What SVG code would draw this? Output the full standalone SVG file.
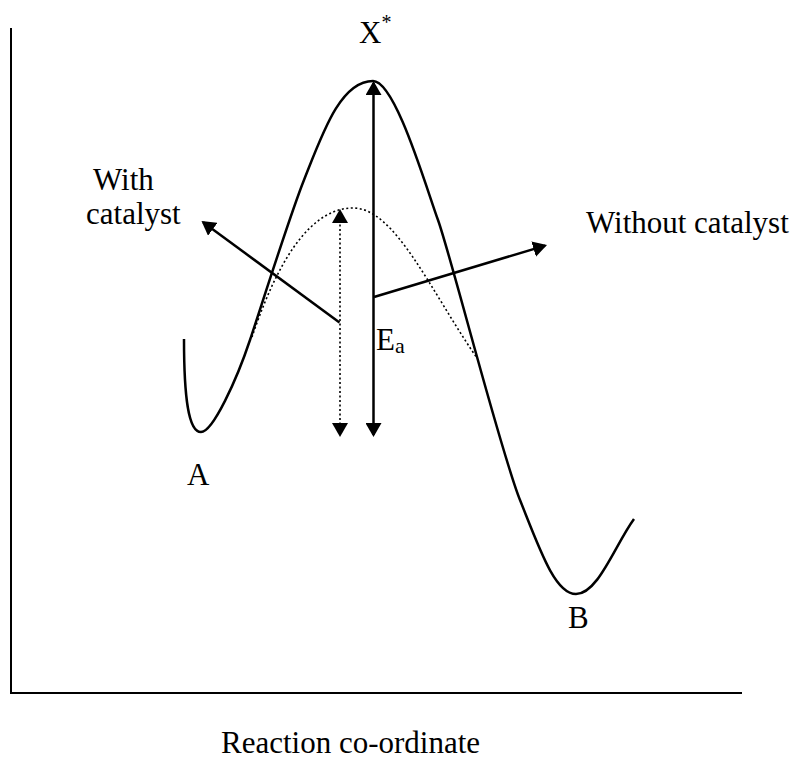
<svg xmlns="http://www.w3.org/2000/svg" width="798" height="761" viewBox="0 0 798 761">
<style>
text{font-family:"Liberation Serif","Times New Roman",serif;font-size:31px;fill:#000}
.axis{stroke:#000;stroke-width:2;fill:none}
.curve{stroke:#000;stroke-width:2.5;fill:none}
.dot{stroke:#000;stroke-width:1.6;fill:none;stroke-dasharray:2 2.5}
.arr{stroke:#000;stroke-width:2.5;fill:none}
.darr{stroke:#000;stroke-width:1.6;fill:none;stroke-dasharray:2 2.5}
</style>
<defs>
<marker id="head" viewBox="0 0 14 16" refX="12" refY="8" markerWidth="14" markerHeight="16" markerUnits="userSpaceOnUse" orient="auto-start-reverse">
<path d="M0,0 L14,8 L0,16 z" fill="#000"/>
</marker>
</defs>
<g id="axes">
<line class="axis" x1="11" y1="28" x2="11" y2="694"/>
<line class="axis" x1="10" y1="693" x2="742" y2="693"/>
</g>
<g id="energy-curve">
<path class="curve" d="M184,339 C184,395 188,432 201,432 C213,432 237,379 250,340 C262,304 290,215 304,180 C322,135 340,81 373,81 C395,81 425,184 438,220 C451,256 500,450 520,500 C540,550 555,594 576,594 C598,594 615,545 634,519"/>
</g>
<g id="catalyst-curve">
<path class="dot" d="M252,337 C268,290 300,208 353,208 C395,208 430,290 477,358"/>
</g>
<g id="connectors">
<line class="arr" x1="373.5" y1="83" x2="373.5" y2="435" marker-start="url(#head)" marker-end="url(#head)"/>
<line class="darr" x1="340" y1="211" x2="340" y2="435" marker-start="url(#head)" marker-end="url(#head)"/>
<line class="arr" x1="339.5" y1="322.5" x2="203.1" y2="222.2" marker-end="url(#head)"/>
<line class="arr" x1="374" y1="297" x2="545.1" y2="245.6" marker-end="url(#head)"/>
</g>
<g id="labels">
<text x="359" y="43">X<tspan font-size="20" dy="-14.5">*</tspan></text>
<text x="93" y="190">With</text>
<text x="86" y="224">catalyst</text>
<text x="586" y="233">Without catalyst</text>
<text x="376" y="350">E<tspan font-size="22" dy="3">a</tspan></text>
<text x="187" y="485">A</text>
<text x="568" y="628">B</text>
<text x="221" y="753">Reaction co-ordinate</text>
</g>
</svg>
